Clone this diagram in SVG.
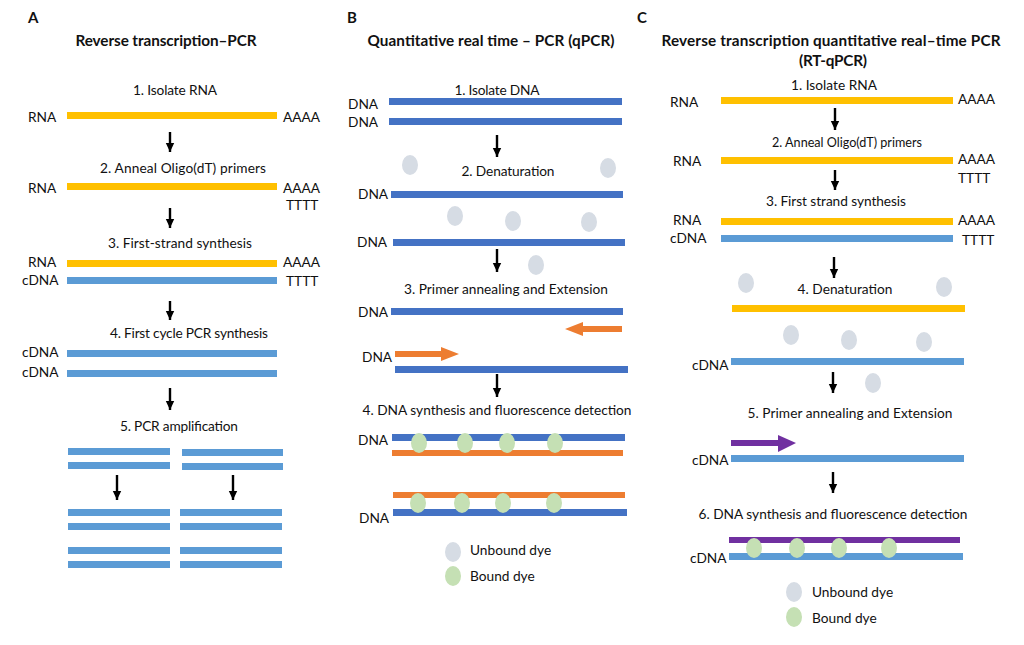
<svg xmlns="http://www.w3.org/2000/svg" width="1024" height="645" viewBox="0 0 1024 645">
<style>
text{font-family:Lato,"Liberation Sans",sans-serif;font-size:13.7px;fill:#111}
.t{font-weight:bold;font-size:15.3px;text-anchor:middle}
.p{font-weight:bold;font-size:15px}
.c{text-anchor:middle}
.y{fill:#FFC000}.lb{fill:#5B9BD5}.db{fill:#4472C4}.or{fill:#ED7D31}.pu{fill:#7030A0}
.gd{fill:#D6DCE4}.gn{fill:#C5E0B4}
.ar{stroke:#000;stroke-width:2.4;fill:none;marker-end:url(#ah)}
</style>
<defs>
<marker id="ah" markerUnits="userSpaceOnUse" markerWidth="10" markerHeight="10" refX="9" refY="5" orient="auto">
<path d="M0,0.8 L9,5 L0,9.2 z" fill="#000"/>
</marker>
</defs>
<rect width="1024" height="645" fill="#fff"/>

<!-- Panel A -->
<g id="panelA-title"><text class="p" x="28" y="23">A</text><text class="t" x="166" y="46" textLength="181">Reverse transcription–PCR</text></g>
<g id="A-step1"><text class="c" x="175" y="95" textLength="84">1. Isolate RNA</text>
<text x="28" y="122">RNA</text><rect class="y" x="67" y="112" width="210" height="7"/><text x="283" y="122">AAAA</text></g>
<g id="A-step2"><text class="c" x="183" y="173" textLength="166">2. Anneal Oligo(dT) primers</text>
<text x="28" y="193">RNA</text><rect class="y" x="67" y="183" width="210" height="7"/><text x="283" y="193">AAAA</text><text x="286" y="210">TTTT</text></g>
<g id="A-step3"><text class="c" x="180" y="248" textLength="144">3. First-strand synthesis</text>
<text x="28" y="267">RNA</text><rect class="y" x="67" y="260" width="210" height="7"/><text x="283" y="267">AAAA</text>
<text x="22" y="285">cDNA</text><rect class="lb" x="67" y="277" width="210" height="7"/><text x="286" y="286">TTTT</text></g>
<g id="A-step4"><text class="c" x="189" y="338" textLength="158">4. First cycle PCR synthesis</text>
<text x="22" y="357">cDNA</text><rect class="lb" x="67" y="350" width="210" height="7"/>
<text x="22" y="377">cDNA</text><rect class="lb" x="67" y="370" width="210" height="7"/></g>
<g id="A-step5"><text class="c" x="179" y="431" textLength="118">5. PCR amplification</text>
<rect class="lb" x="68" y="448" width="102" height="7"/><rect class="lb" x="68" y="462" width="102" height="7"/>
<rect class="lb" x="182" y="449" width="101" height="7"/><rect class="lb" x="182" y="463" width="101" height="7"/>
<rect class="lb" x="68" y="509" width="102" height="7"/><rect class="lb" x="68" y="523" width="102" height="7"/>
<rect class="lb" x="68" y="547" width="102" height="7"/><rect class="lb" x="68" y="561" width="102" height="7"/>
<rect class="lb" x="180" y="509" width="102" height="7"/><rect class="lb" x="180" y="523" width="102" height="7"/>
<rect class="lb" x="180" y="547" width="102" height="7"/><rect class="lb" x="180" y="561" width="102" height="7"/></g>

<!-- Panel B -->
<g id="panelB-title"><text class="p" x="347" y="23">B</text><text class="t" x="491" y="46" textLength="247">Quantitative real time – PCR (qPCR)</text></g>
<g id="B-step1"><text class="c" x="497" y="95" textLength="85">1. Isolate DNA</text>
<text x="348" y="109">DNA</text><rect class="db" x="389" y="98" width="233" height="7"/>
<text x="348" y="127">DNA</text><rect class="db" x="389" y="118" width="233" height="7"/></g>
<g id="B-step2"><text class="c" x="508" y="176" textLength="93">2. Denaturation</text>
<ellipse class="gd" cx="410" cy="165" rx="8" ry="10"/><ellipse class="gd" cx="608" cy="168" rx="8" ry="10"/>
<text x="358" y="199">DNA</text><rect class="db" x="391" y="191" width="232" height="7"/>
<ellipse class="gd" cx="455" cy="216" rx="8" ry="10"/><ellipse class="gd" cx="513" cy="221" rx="8" ry="10"/><ellipse class="gd" cx="589" cy="222" rx="8" ry="10"/>
<text x="357" y="247">DNA</text><rect class="db" x="393" y="239" width="232" height="7"/>
<ellipse class="gd" cx="536" cy="265" rx="8" ry="10"/></g>
<g id="B-step3"><text class="c" x="506" y="294" textLength="204">3. Primer annealing and Extension</text>
<text x="358" y="317">DNA</text><rect class="db" x="391" y="308" width="232" height="7"/>
<path class="or" d="M622,326 L583,326 L583,322 L565,329 L583,336 L583,332 L622,332 z"/>
<text x="362" y="362">DNA</text>
<path class="or" d="M395,351 L441,351 L441,347 L459,354 L441,361 L441,357 L395,357 z"/>
<rect class="db" x="395" y="366" width="233" height="7"/></g>
<g id="B-step4"><text class="c" x="497" y="415" textLength="269">4. DNA synthesis and fluorescence detection</text>
<text x="358" y="445">DNA</text><rect class="db" x="392" y="434" width="233" height="7"/><rect class="or" x="392" y="450" width="231" height="6"/>
<ellipse class="gn" cx="419" cy="443" rx="8" ry="10"/><ellipse class="gn" cx="465" cy="443" rx="8" ry="10"/><ellipse class="gn" cx="507" cy="443" rx="8" ry="10"/><ellipse class="gn" cx="555" cy="443" rx="8" ry="10"/>
<rect class="or" x="393" y="492" width="232" height="6"/><rect class="db" x="393" y="509" width="234" height="7"/>
<ellipse class="gn" cx="418" cy="503" rx="8" ry="10"/><ellipse class="gn" cx="462" cy="503" rx="8" ry="10"/><ellipse class="gn" cx="503" cy="503" rx="8" ry="10"/><ellipse class="gn" cx="554" cy="503" rx="8" ry="10"/>
<text x="359" y="523">DNA</text></g>
<g id="B-legend"><ellipse class="gd" cx="453" cy="552" rx="8" ry="10"/><text x="470" y="555">Unbound dye</text>
<ellipse class="gn" cx="453" cy="576" rx="8" ry="10"/><text x="470" y="581">Bound dye</text></g>

<!-- Panel C -->
<g id="panelC-title"><text class="p" x="637" y="23">C</text><text class="t" x="831" y="46" textLength="339">Reverse transcription quantitative real–time PCR</text><text class="t" x="833" y="66" textLength="68">(RT-qPCR)</text></g>
<g id="C-step1"><text class="c" x="834" y="90" textLength="86">1. Isolate RNA</text>
<text x="670" y="107">RNA</text><rect class="y" x="721" y="97" width="232" height="7"/><text x="958" y="104">AAAA</text></g>
<g id="C-step2"><text class="c" x="847" y="147" style="font-size:12.6px">2. Anneal Oligo(dT) primers</text>
<text x="673" y="166">RNA</text><rect class="y" x="721" y="157" width="232" height="7"/><text x="958" y="164">AAAA</text><text x="958" y="183">TTTT</text></g>
<g id="C-step3"><text class="c" x="836" y="206" textLength="140">3. First strand synthesis</text>
<text x="673" y="225">RNA</text><rect class="y" x="721" y="218" width="232" height="7"/><text x="958" y="225">AAAA</text>
<text x="670" y="243">cDNA</text><rect class="lb" x="721" y="235" width="232" height="7"/><text x="962" y="245">TTTT</text></g>
<g id="C-step4"><text class="c" x="845" y="294" textLength="95">4. Denaturation</text>
<ellipse class="gd" cx="746" cy="283" rx="8" ry="10"/><ellipse class="gd" cx="944" cy="287" rx="8" ry="10"/>
<rect class="y" x="732" y="305" width="233" height="7"/>
<ellipse class="gd" cx="791" cy="335" rx="8" ry="10"/><ellipse class="gd" cx="849" cy="340" rx="8" ry="10"/><ellipse class="gd" cx="924" cy="342" rx="8" ry="10"/>
<text x="692" y="370">cDNA</text><rect class="lb" x="731" y="358" width="233" height="7"/>
<ellipse class="gd" cx="873" cy="383" rx="8" ry="10"/></g>
<g id="C-step5"><text class="c" x="850" y="418" textLength="205">5. Primer annealing and Extension</text>
<path class="pu" d="M731,440 L778,440 L778,435 L796,443 L778,452 L778,446 L731,446 z"/>
<text x="692" y="465">cDNA</text><rect class="lb" x="731" y="455" width="233" height="7"/></g>
<g id="C-step6"><text class="c" x="833" y="519" textLength="269">6. DNA synthesis and fluorescence detection</text>
<rect class="pu" x="729" y="537" width="231" height="6"/><rect class="lb" x="729" y="553" width="234" height="7"/>
<ellipse class="gn" cx="754" cy="548" rx="8" ry="10"/><ellipse class="gn" cx="797" cy="548" rx="8" ry="10"/><ellipse class="gn" cx="839" cy="548" rx="8" ry="10"/><ellipse class="gn" cx="889" cy="548" rx="8" ry="10"/>
<text x="690" y="563">cDNA</text></g>
<g id="C-legend"><ellipse class="gd" cx="794" cy="592" rx="8" ry="10"/><text x="812" y="597">Unbound dye</text>
<ellipse class="gn" cx="794" cy="617" rx="8" ry="10"/><text x="812" y="623">Bound dye</text></g>

<!-- Connectors -->
<g id="connectors">
<line class="ar" x1="170" y1="132" x2="170" y2="152"/>
<line class="ar" x1="170" y1="208" x2="170" y2="228"/>
<line class="ar" x1="170" y1="301" x2="170" y2="320"/>
<line class="ar" x1="170" y1="388" x2="170" y2="410"/>
<line class="ar" x1="117" y1="475" x2="117" y2="500"/>
<line class="ar" x1="233" y1="475" x2="233" y2="500"/>
<line class="ar" x1="497" y1="135" x2="497" y2="157"/>
<line class="ar" x1="497" y1="249" x2="497" y2="272"/>
<line class="ar" x1="497" y1="374" x2="497" y2="397"/>
<line class="ar" x1="835" y1="108" x2="835" y2="130"/>
<line class="ar" x1="835" y1="170" x2="835" y2="190"/>
<line class="ar" x1="834" y1="257" x2="834" y2="278"/>
<line class="ar" x1="833" y1="372" x2="833" y2="393"/>
<line class="ar" x1="833" y1="472" x2="833" y2="493"/>
</g>
</svg>
